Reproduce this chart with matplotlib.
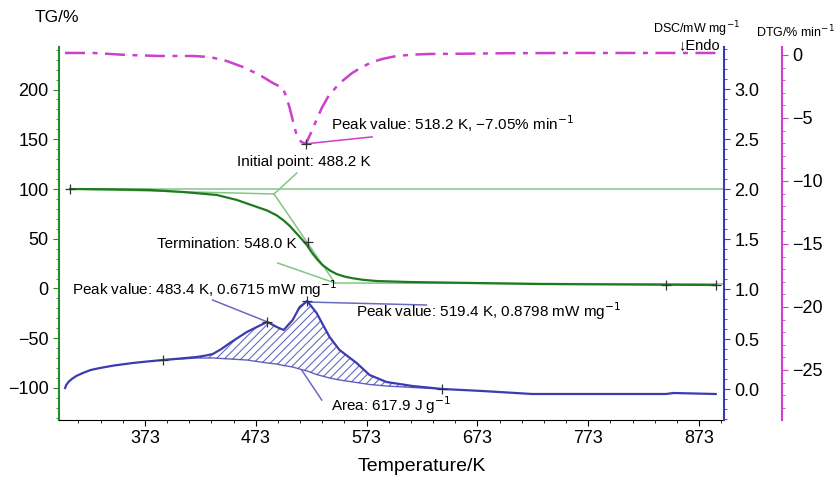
import matplotlib
matplotlib.use("Agg")
import matplotlib.pyplot as plt
from matplotlib.ticker import MultipleLocator, FixedLocator

plt.rcParams['font.family'] = ['Liberation Sans', 'DejaVu Sans']
plt.rcParams['hatch.linewidth'] = 0.8
plt.rcParams['hatch.color'] = '#5c5cb8'

# TG curve (%)
tg_T = [305.4, 340.0, 377.5, 407.2, 437.8, 455.9, 473.9, 483.0, 491.9, 498.0,
        503.6, 508.0, 512.6, 518.9, 524.3, 529.0, 533.3, 540.0, 546.0, 553.0,
        560.4, 570.0, 582.0, 611.7, 728.8, 888.0]
tg_v = [100, 99.7, 99, 97, 94, 89, 82, 78.5, 73.5, 68.5,
        63, 57.5, 52, 44, 35, 28.5, 23.5, 18, 14.5, 12,
        10.3, 8.7, 7.5, 6.5, 4.5, 3.5]

# DTG curve (% / min)
dtg_T = [300.9, 326.1, 356.8, 386.5, 416.2, 431.5, 446.8, 461.3, 476.6, 488.3,
         497.3, 500.5, 503.6, 506.3, 510.0, 514.0, 518.2, 524.0, 528.0, 533.0,
         539.0, 545.7, 552.0, 560.0, 568.0, 578.0, 588.0, 600.0, 615.0, 630.0,
         660.0, 700.0, 760.0, 891.0]
dtg_v = [0.16, 0.16, 0.0, -0.08, -0.08, -0.16, -0.48, -0.95, -1.59, -2.22,
         -2.62, -3.3, -4.2, -5.16, -6.4, -6.9, -7.05, -5.95, -5.1, -4.13,
         -3.2, -2.54, -2.0, -1.43, -1.0, -0.56, -0.3, -0.08, 0.03, 0.08,
         0.1, 0.14, 0.16, 0.16]

# DSC curve (mW/mg)
dsc_T = [301.0, 302.0, 304.0, 307.0, 311.0, 317.0, 324.0, 332.4, 345.0, 362.0,
         375.0, 389.2, 405.0, 419.8, 428.0, 434.2, 442.0, 449.6, 464.9, 483.4,
         491.9, 498.2, 506.3, 512.6, 519.4, 527.9, 539.6, 548.6, 564.0, 575.7,
         591.0, 614.4, 641.4, 677.5, 722.5, 765.0, 843.0, 850.0, 888.0]
dsc_v = [0.01, 0.04, 0.07, 0.10, 0.13, 0.16, 0.19, 0.21, 0.235, 0.26,
         0.275, 0.29, 0.305, 0.32, 0.335, 0.35, 0.40, 0.46, 0.57, 0.6715,
         0.62, 0.59, 0.69, 0.82, 0.8798, 0.76, 0.52, 0.39, 0.26, 0.14,
         0.07, 0.03, 0.0, -0.02, -0.05, -0.05, -0.05, -0.04, -0.05]

# DSC baseline under the peak area, read at the same temperatures as the curve
base_T = dsc_T[11:33]
base_v = [0.29, 0.30, 0.31, 0.31, 0.31, 0.305, 0.30, 0.29, 0.26,
          0.25, 0.235, 0.22, 0.20, 0.18, 0.145, 0.11, 0.09, 0.065, 0.045,
          0.03, 0.015, 0.0]
peak_v = dsc_v[11:33]

# marked points
tg_mark_T = [305.4, 519.8, 843, 888]
tg_mark_v = [100, 47, 4, 3.5]
dsc_mark_T = [389.2, 483.4, 519.4, 641.4]
dsc_mark_v = [0.29, 0.6715, 0.8798, 0.0]

green = '#2a8a2a'
tg_col = '#1f7a1f'
light_green = '#86c486'
blue = '#3b3bb2'
lead_blue = '#6a6ac0'
magenta = '#cc40cc'

fig = plt.figure(figsize=(8.35, 4.8), dpi=100)
ax = fig.add_axes([0.0707, 0.125, 0.7964, 0.777])
ax2 = ax.twinx()
ax3 = ax.twinx()
ax3.spines['right'].set_position(('axes', 1.087))

# TG axis
ax.plot(tg_T, tg_v, color=tg_col, lw=1.6, zorder=3)
ax.plot(tg_mark_T, tg_mark_v, '+', color='#333333', ms=7, mew=0.9, zorder=4)
# tangent construction
ax.plot([305.4, 895], [100, 100], color=light_green, lw=1.1)
ax.plot([305.4, 489.5], [100, 95], color=light_green, lw=1.1)
ax.plot([489.5, 544.5], [95, 5.5], color=light_green, lw=1.1)
ax.plot([492.8, 544.5], [25.6, 5.5], color=light_green, lw=1.1)
ax.plot([544.5, 895], [5.5, 4.5], color=light_green, lw=1.1)
ax.plot([510, 489.5], [116, 95], color=light_green, lw=1.1)
ax.text(455.9, 127, 'Initial point: 488.2 K', fontsize=11, va='center')
ax.text(383.8, 44.7, 'Termination: 548.0 K', fontsize=11, va='center')

ax.set_xlim(295.5, 895.5)
ax.set_ylim(-132.2, 242.7)
ax.set_xticks([373, 473, 573, 673, 773, 873])
ax.xaxis.set_minor_locator(FixedLocator(list(range(313, 896, 20))))
ax.set_yticks([-100, -50, 0, 50, 100, 150, 200])
ax.yaxis.set_minor_locator(MultipleLocator(10))
ax.set_yticklabels(['\u2212100', '\u221250', '0', '50', '100', '150', '200'])
ax.tick_params(axis='both', labelsize=13, length=4)
ax.tick_params(axis='both', which='minor', length=2)
ax.tick_params(axis='y', which='both', colors=green, labelcolor='black')
ax.spines['left'].set_color(green)
ax.spines['left'].set_linewidth(1.5)
ax.spines['top'].set_visible(False)
ax.spines['right'].set_visible(False)

# DSC axis
ax2.plot(dsc_T, dsc_v, color=blue, lw=1.6, zorder=3)
ax2.plot(base_T, base_v, color=blue, lw=1.0, alpha=0.8)
ax2.fill_between(base_T, base_v, peak_v,
                 facecolor='none', edgecolor=lead_blue, hatch='////', lw=0)
ax2.plot(dsc_mark_T, dsc_mark_v, '+', color='#333333', ms=7, mew=0.9, zorder=4)
ax2.plot([434, 483.4], [0.89, 0.6715], color=lead_blue, lw=1.1)
ax2.plot([519.4, 627], [0.87, 0.84], color=lead_blue, lw=1.1)
ax2.plot([514.4, 532.5], [0.19, -0.11], color=lead_blue, lw=1.1)
ax2.text(307.2, 1.0, 'Peak value: 483.4 K, 0.6715 mW mg$^{\u22121}$', fontsize=11, va='center')
ax2.text(563, 0.78, 'Peak value: 519.4 K, 0.8798 mW mg$^{\u22121}$', fontsize=11, va='center')
ax2.text(540.5, -0.16, 'Area: 617.9 J g$^{\u22121}$', fontsize=11, va='center')
ax2.set_ylim(-0.31, 3.42)
ax2.set_yticks([0.0, 0.5, 1.0, 1.5, 2.0, 2.5, 3.0])
ax2.set_yticklabels(['0.0', '0.5', '1.0', '1.5', '2.0', '2.5', '3.0'])
ax2.yaxis.set_minor_locator(MultipleLocator(0.1))
ax2.tick_params(axis='y', which='both', colors=blue, labelcolor='black', labelsize=13, length=4)
ax2.tick_params(axis='y', which='minor', length=2)
for s in ['left', 'top', 'bottom']:
    ax2.spines[s].set_visible(False)
ax2.spines['right'].set_color(blue)
ax2.spines['right'].set_linewidth(1.5)

# DTG axis
ax3.plot(dtg_T, dtg_v, color=magenta, lw=1.8, ls=(0, (8, 3, 2, 3)), zorder=3)
ax3.plot([518.2], [-7.05], '+', color='#333333', ms=7, mew=0.9, zorder=4)
ax3.plot([518.2, 578], [-7.05, -6.5], color=magenta, lw=1.1)
ax3.text(540.5, -5.48, 'Peak value: 518.2 K, \u22127.05% min$^{\u22121}$', fontsize=11, va='center')
ax3.set_ylim(-28.97, 0.63)
ax3.set_yticks([0, -5, -10, -15, -20, -25])
ax3.set_yticklabels(['0', '\u22125', '\u221210', '\u221215', '\u221220', '\u221225'])
ax3.yaxis.set_minor_locator(MultipleLocator(1))
ax3.tick_params(axis='y', which='both', colors=magenta, labelcolor='black', labelsize=13, length=4)
ax3.tick_params(axis='y', which='minor', length=2)
for s in ['left', 'top', 'bottom']:
    ax3.spines[s].set_visible(False)
ax3.spines['right'].set_color(magenta)
ax3.spines['right'].set_linewidth(1.5)

# axis labels
fig.text(0.068, 0.9625, 'TG/%', fontsize=12.5, ha='center', va='center')
fig.text(0.834, 0.94, 'DSC/mW mg$^{\u22121}$', fontsize=9, ha='center', va='center')
fig.text(0.952, 0.933, 'DTG/% min$^{\u22121}$', fontsize=9, ha='center', va='center')
fig.text(0.8365, 0.906, '\u2193Endo', fontsize=10.5, ha='center', va='center')
fig.text(0.505, 0.029, 'Temperature/K', fontsize=14, ha='center', va='center')

fig.savefig('out.png', dpi=100)
